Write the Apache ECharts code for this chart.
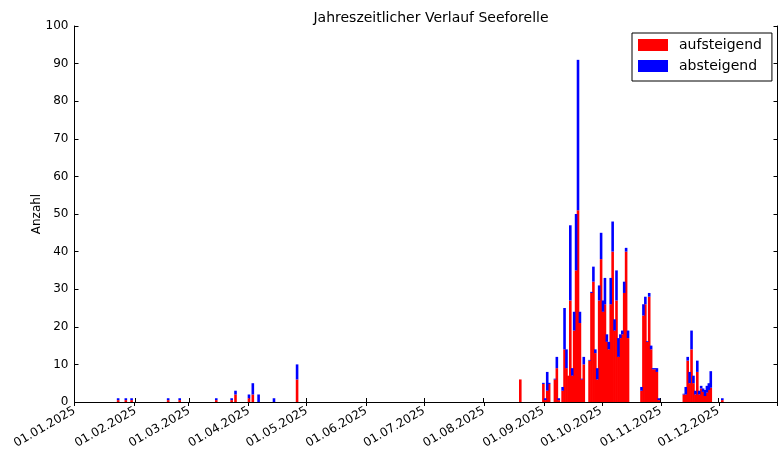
<!DOCTYPE html>
<html>
<head>
<meta charset="utf-8">
<script src="https://cdn.jsdelivr.net/npm/echarts@6/dist/echarts.min.js"></script>
<style>
html,body{margin:0;padding:0;background:#fff;}
#chart{width:779px;height:462px;}
</style>
</head>
<body>
<div id="chart"></div>
<script>
const chartTitle = 'Jahreszeitlicher Verlauf Seeforelle';
const yAxisTitle = 'Anzahl';
const seriesNames = ['aufsteigend', 'absteigend'];

const dates = [
  '2025-01-23','2025-01-27','2025-01-30','2025-02-18','2025-02-24',
  '2025-03-15','2025-03-23','2025-03-25','2025-04-01','2025-04-03',
  '2025-04-06','2025-04-14','2025-04-26','2025-08-20',
  '2025-09-01','2025-09-02','2025-09-03','2025-09-04','2025-09-07',
  '2025-09-08','2025-09-09','2025-09-11','2025-09-12','2025-09-13',
  '2025-09-14','2025-09-15','2025-09-16','2025-09-17','2025-09-18',
  '2025-09-19','2025-09-20','2025-09-21','2025-09-22','2025-09-25',
  '2025-09-26','2025-09-27','2025-09-28','2025-09-29','2025-09-30',
  '2025-10-01','2025-10-02','2025-10-03','2025-10-04','2025-10-05',
  '2025-10-06','2025-10-07','2025-10-08','2025-10-09','2025-10-10',
  '2025-10-11','2025-10-12','2025-10-13','2025-10-14','2025-10-15',
  '2025-10-22','2025-10-23','2025-10-24','2025-10-25','2025-10-26',
  '2025-10-27','2025-10-28','2025-10-29','2025-10-30','2025-10-31',
  '2025-11-13','2025-11-14','2025-11-15','2025-11-16','2025-11-17',
  '2025-11-18','2025-11-19','2025-11-20','2025-11-21','2025-11-22',
  '2025-11-23','2025-11-24','2025-11-25','2025-11-26','2025-11-27',
  '2025-12-03'
];

const aufsteigend = [
  0.5,0.5,0.5,0.5,0.5,
  0.5,0.5,2,1,2,
  0,0,6,6,
  4.8,0.5,3,4.8,6,
  9,0.5,3,14,9,
  7,27,7,19,35,
  51,21,6,10,11,
  29,32,13,6,27,
  38,24,26,16,14,
  26,40,19,27,12,
  17,18,29,40,17,
  3,23,26,16,28,
  14,8.7,8.7,8,0.5,
  2,2,11,5,14,
  5,2,8,2,3.6,
  2.7,1.6,2.5,3.2,3.8,
  0.5
];

const absteigend = [
  0.5,0.5,0.5,0.5,0.5,
  0.5,0.5,1,1,3,
  2,1,4,0,
  0.3,0.5,5,0.3,0.2,
  3,0.5,1,11,5,
  0,20,2,5,15,
  40,3,0.2,2,0.2,
  0.3,4,1,3,4,
  7,3,7,2,2,
  7,8,3,8,5,
  1,1,3,1,2,
  1,3,2,0.2,1,
  1,0.3,0.3,1,0.5,
  0.2,2,1,3,5,
  2,1,3,1,0.7,
  0.9,1.6,1.8,1.8,4.4,
  0.5
];

const yTicks = {min: 0, max: 100, interval: 10};
const xRange = {min: '2025-01-01', max: '2025-12-31'};

const font = 'DejaVu Sans';
const chart = echarts.init(document.getElementById('chart'), null, {renderer: 'canvas'});

const minTs = +echarts.time.parse(xRange.min);
const fmt = v => echarts.time.format(Math.max(+v, minTs) + 6 * 3600000, '{dd}.{MM}.{yyyy}', false);
const monthMs = 28 * 86400000;

chart.setOption({
  animation: false,
  backgroundColor: '#ffffff',
  title: {
    text: chartTitle,
    left: 426,
    top: 6,
    textAlign: 'center',
    textStyle: {fontFamily: font, fontSize: 14, fontWeight: 'normal', color: '#000'}
  },
  legend: {
    data: seriesNames,
    orient: 'vertical',
    left: 632,
    top: 33,
    padding: [5, 10, 8, 6],
    itemGap: 7,
    itemWidth: 30,
    itemHeight: 12,
    icon: 'rect',
    borderColor: '#000',
    borderWidth: 1,
    backgroundColor: '#fff',
    textStyle: {fontFamily: font, fontSize: 14, color: '#000', padding: [0, 0, 0, 6]}
  },
  grid: {left: 74.5, right: 1.5, top: 26, bottom: 60, containLabel: false},
  xAxis: [
    {
      type: 'time',
      min: xRange.min,
      max: xRange.max,
      splitNumber: 12,
      minInterval: monthMs,
      axisLine: {lineStyle: {color: '#000', width: 1}},
      axisTick: {inside: true, length: 4, lineStyle: {color: '#000'}},
      axisLabel: {
        formatter: fmt, rotate: 30, margin: 8,
        fontFamily: font, fontSize: 12, color: '#000',
        showMaxLabel: false, showMinLabel: true, hideOverlap: false
      },
      splitLine: {show: false}
    },
    {
      type: 'time',
      position: 'top',
      min: xRange.min,
      max: xRange.max,
      splitNumber: 12,
      minInterval: monthMs,
      axisLine: {show: true, lineStyle: {color: '#000', width: 1}},
      axisTick: {inside: true, length: 4, lineStyle: {color: '#000'}},
      axisLabel: {show: false},
      splitLine: {show: false}
    }
  ],
  yAxis: [
    {
      type: 'value',
      min: yTicks.min, max: yTicks.max, interval: yTicks.interval,
      name: yAxisTitle,
      nameLocation: 'middle',
      nameGap: 32,
      nameMoveOverlap: false,
      nameRotate: 90,
      nameTextStyle: {fontFamily: font, fontSize: 12, color: '#000'},
      axisLine: {show: true, lineStyle: {color: '#000', width: 1}},
      axisTick: {show: true, inside: true, length: 4, lineStyle: {color: '#000'}},
      axisLabel: {fontFamily: font, fontSize: 12, color: '#000', margin: 6},
      splitLine: {show: false}
    },
    {
      type: 'value',
      position: 'right',
      min: yTicks.min, max: yTicks.max, interval: yTicks.interval,
      axisLine: {show: true, lineStyle: {color: '#000', width: 1}},
      axisTick: {show: true, inside: true, length: 4, lineStyle: {color: '#000'}},
      axisLabel: {show: false},
      splitLine: {show: false}
    }
  ],
  series: [
    {
      name: seriesNames[0],
      type: 'bar',
      stack: 'total',
      barWidth: 2.6,
      itemStyle: {color: '#ff0000'},
      data: dates.map((d, i) => [d, aufsteigend[i]])
    },
    {
      name: seriesNames[1],
      type: 'bar',
      stack: 'total',
      barWidth: 2.6,
      itemStyle: {color: '#0000ff'},
      data: dates.map((d, i) => [d, absteigend[i]])
    }
  ]
});
</script>
</body>
</html>
